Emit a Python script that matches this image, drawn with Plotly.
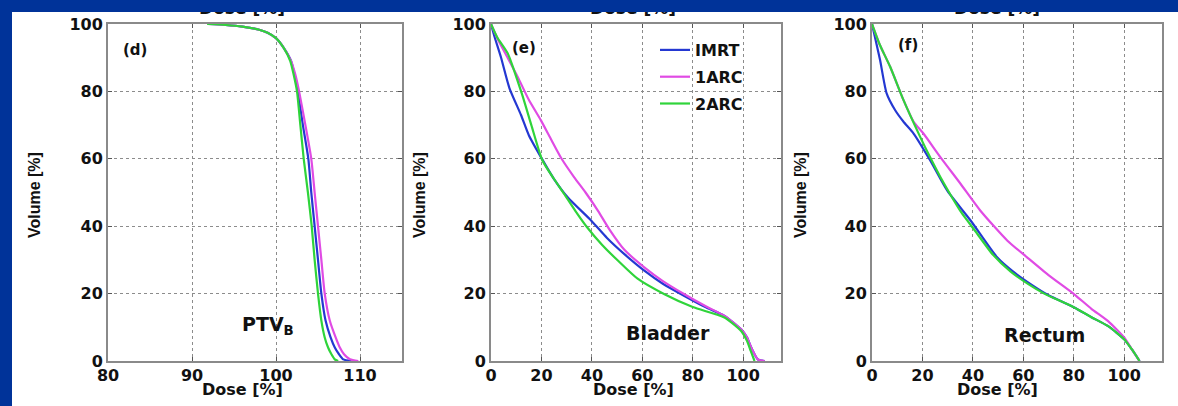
import plotly.graph_objects as go

W, H = 1178, 406

# ---------------- data (dose [%], volume [%]) ----------------
series_names = ["IMRT", "1ARC", "2ARC"]
series_colors = ["#2438d2", "#e04be4", "#2fd43a"]

# (d) PTV_B
d_imrt_dose = [92, 94, 96, 98, 99, 100, 100.9, 101.8, 102.2, 102.6, 103.2, 103.85, 104.2, 104.6, 105.0, 105.4, 105.9, 106.5, 107.0, 107.5, 108.0, 109.0]
d_imrt_vol = [100, 99.7, 99.2, 98.3, 97.4, 95.8, 93, 89, 85, 80, 70, 60, 50, 40, 30, 20, 12, 7, 4, 2, 0.5, 0]
d_1arc_dose = [92, 94, 96, 98, 99, 100, 100.9, 101.8, 102.3, 102.75, 103.5, 104.2, 104.6, 105.0, 105.4, 105.8, 106.4, 107.1, 107.6, 108.1, 108.8, 109.8]
d_1arc_vol = [100, 99.7, 99.2, 98.3, 97.4, 95.8, 93, 89, 85, 80, 70, 60, 50, 40, 30, 20, 12, 7, 4, 2, 0.5, 0]
d_2arc_dose = [91.8, 94, 96, 98, 99, 100, 100.9, 101.7, 102.1, 102.5, 102.9, 103.3, 103.8, 104.25, 104.6, 105.0, 105.4, 105.8, 106.2, 106.6, 107.0, 107.4]
d_2arc_vol = [100, 99.7, 99.2, 98.3, 97.4, 95.8, 93, 89, 85, 80, 70, 60, 50, 40, 30, 20, 12, 7, 4, 2, 0.5, 0]

# (e) Bladder
e_imrt_dose = [0, 1.5, 4, 7.3, 11.9, 15, 19.8, 25, 30.4, 39.7, 46, 52.9, 60.8, 68, 76.7, 85, 92.6, 99.2, 101.5, 103.2, 105.8, 108.5]
e_imrt_vol = [100, 96, 90, 81, 73, 67, 60.5, 54, 48.6, 41.7, 36.5, 31.7, 26.8, 23, 19.3, 16, 13.4, 9.4, 7, 4, 0.5, 0]
e_1arc_dose = [0, 3, 6.6, 10.6, 15, 19.8, 24, 28, 33, 37.5, 42.5, 47, 52.9, 60.8, 68, 76.7, 85, 92.6, 99.2, 101.5, 103.2, 105.8, 108.5]
e_1arc_vol = [100, 95, 90, 84.3, 77.5, 71.4, 65.5, 60, 54.5, 50, 44.5, 39, 33, 27.8, 23.8, 19.8, 16.3, 13.4, 9.4, 7, 4, 0.5, 0]
e_2arc_dose = [0, 2.5, 6.6, 12.2, 16, 20.4, 25, 29, 33.5, 38.1, 44, 50.3, 58, 68.8, 80, 92.6, 99.2, 101.5, 103, 104.5]
e_2arc_vol = [100, 96, 91.3, 79.4, 70, 59.5, 54, 49.6, 44.5, 39.7, 34.5, 29.8, 24.5, 19.8, 16, 12.9, 8.9, 6, 3, 0]

# (f) Rectum
f_imrt_dose = [0, 1.5, 3.2, 5.8, 9.2, 12.5, 16.5, 23.1, 29.8, 39.1, 49.7, 56, 62.9, 70, 80.2, 87, 93.5, 100.1, 103, 106.1]
f_imrt_vol = [100, 95, 89.3, 79.4, 74.4, 71, 67.5, 59.5, 50.6, 41.7, 30.7, 26.5, 22.8, 19.5, 15.9, 13, 10.4, 6.4, 3.5, 0]
f_1arc_dose = [0, 3, 7.2, 12.5, 16.5, 20.4, 27.1, 35.1, 43, 53.7, 61.6, 70, 80.2, 87, 93.5, 100.1, 103, 106.1]
f_1arc_vol = [100, 94, 87.3, 77.4, 71, 67.5, 60.5, 52.6, 44.6, 35.7, 30.7, 25.5, 19.8, 15.5, 11.9, 6.9, 3.5, 0]
f_2arc_dose = [0, 3, 7.2, 12.5, 19.1, 23, 27.1, 31, 35.5, 41, 48, 55, 62, 68.3, 80.2, 87, 93.5, 100.1, 103, 106.1]
f_2arc_vol = [100, 94, 87.3, 77.4, 66.5, 60.5, 54.6, 49.5, 44, 38.5, 31.5, 26.5, 22.8, 20, 15.9, 13, 10.4, 6.4, 3.5, 0]

panel_labels = ["(d)", "(e)", "(f)"]
organ_labels = ["PTV<sub>B</sub>", "Bladder", "Rectum"]
x_ranges = [[80, 115], [0, 115], [0, 115]]
x_ticks = [[80, 90, 100, 110], [0, 20, 40, 60, 80, 100], [0, 20, 40, 60, 80, 100]]
y_ticks = [0, 20, 40, 60, 80, 100]
x_title = "Dose [%]"
y_title = "Volume [%]"

panels = [
    [(d_imrt_dose, d_imrt_vol), (d_1arc_dose, d_1arc_vol), (d_2arc_dose, d_2arc_vol)],
    [(e_imrt_dose, e_imrt_vol), (e_1arc_dose, e_1arc_vol), (e_2arc_dose, e_2arc_vol)],
    [(f_imrt_dose, f_imrt_vol), (f_1arc_dose, f_1arc_vol), (f_2arc_dose, f_2arc_vol)],
]

# ---------------- layout helpers (pixel -> paper) ----------------
def px(xp):
    return xp / W

def py(yp):
    return 1 - yp / H

plot_left = [108, 491, 872]
plot_right = [402, 781, 1162]
plot_top, plot_bottom = 24, 361
BG_BLUE = "#003399"

BOLD = "DejaVu Sans"
fig = go.Figure()

for i, pan in enumerate(panels):
    ax = "" if i == 0 else str(i + 1)
    for j, (dose, vol) in enumerate(pan):
        fig.add_trace(go.Scatter(
            x=dose, y=vol, mode="lines", name=series_names[j],
            line=dict(color=series_colors[j], width=2.2, shape="spline", smoothing=0.6),
            legendgroup=series_names[j], showlegend=(i == 1),
            xaxis="x" + ax, yaxis="y" + ax,
        ))

axis_common = dict(
    showline=True, linecolor="#8a8a8a", linewidth=2, mirror="ticks",
    ticks="inside", ticklen=4, tickcolor="#555", tickwidth=1,
    showgrid=True, gridcolor="#8c8c8c", griddash="dot", gridwidth=1,
    zeroline=False, automargin=False,
    tickfont=dict(family=BOLD, size=16, color="#111", weight="bold"),
)
layout_axes = {}
for i in range(3):
    ax = "" if i == 0 else str(i + 1)
    layout_axes["xaxis" + ax] = dict(
        axis_common, domain=[px(plot_left[i]), px(plot_right[i])],
        range=x_ranges[i], tickvals=x_ticks[i], anchor="y" + ax, ticklabelstandoff=-1,
    )
    layout_axes["yaxis" + ax] = dict(
        axis_common, domain=[py(plot_bottom), py(plot_top)],
        range=[0, 100], tickvals=y_ticks, anchor="x" + ax, ticklabelstandoff=0,
    )

# overlay axis for the cut-off top labels (pixel coordinates)
layout_axes["xaxis4"] = dict(domain=[0, 1], range=[0, W], visible=False, automargin=False, anchor="y4")
layout_axes["yaxis4"] = dict(domain=[0, py(12)], range=[H, 12], visible=False, automargin=False, anchor="x4")

title_centers = [242, 633, 997]
fig.add_trace(go.Scatter(
    x=title_centers, y=[10, 10, 10], mode="text", text=[x_title] * 3,
    textposition="middle center", cliponaxis=True, showlegend=False, hoverinfo="skip",
    textfont=dict(family=BOLD, size=17, color="#111", weight="bold"),
    xaxis="x4", yaxis="y4",
))

annotations = []
label_pos = [(135, 50), (524, 48), (908, 45)]
organ_pos = [(268, 325), (668, 333), (1044, 335)]
ylab_x = [34, 419, 800]

def ann(text, x, y, font, angle=0):
    return dict(text=text, x=px(x), y=py(y), xref="paper", yref="paper",
                xanchor="center", yanchor="middle", showarrow=False,
                textangle=angle, font=font)

for i in range(3):
    annotations.append(ann(panel_labels[i], *label_pos[i],
                           dict(family=BOLD, size=15, color="#111", weight="bold")))
    annotations.append(ann(organ_labels[i], *organ_pos[i],
                           dict(family=BOLD, size=19, color="#111", weight="bold")))
    annotations.append(ann(x_title, title_centers[i], 389,
                           dict(family=BOLD, size=16, color="#111", weight="bold")))
    annotations.append(ann(y_title, ylab_x[i], 195,
                           dict(family="Liberation Sans", size=16, color="#111", weight="bold"), angle=-90))

fig.update_layout(
    template="none",
    width=W, height=H, margin=dict(l=0, r=0, t=0, b=0, pad=0, autoexpand=False),
    paper_bgcolor=BG_BLUE, plot_bgcolor="rgba(0,0,0,0)",
    showlegend=True,
    legend=dict(x=px(655), y=py(33), xanchor="left", yanchor="top",
                bgcolor="rgba(0,0,0,0)", borderwidth=0, tracegroupgap=3,
                font=dict(family=BOLD, size=16, color="#111", weight="bold")),
    annotations=annotations,
    shapes=[
        dict(type="rect", xref="paper", yref="paper", x0=px(12), x1=1, y0=0, y1=py(12),
             fillcolor="white", line=dict(width=0), layer="below"),
        # blue frame drawn above so the top labels appear cut off
        dict(type="rect", xref="paper", yref="paper", x0=0, x1=1, y0=py(12), y1=1,
             fillcolor=BG_BLUE, line=dict(width=0), layer="above"),
        dict(type="rect", xref="paper", yref="paper", x0=0, x1=px(12), y0=0, y1=1,
             fillcolor=BG_BLUE, line=dict(width=0), layer="above"),
    ],
    **layout_axes,
)

fig.write_html("out.html")
